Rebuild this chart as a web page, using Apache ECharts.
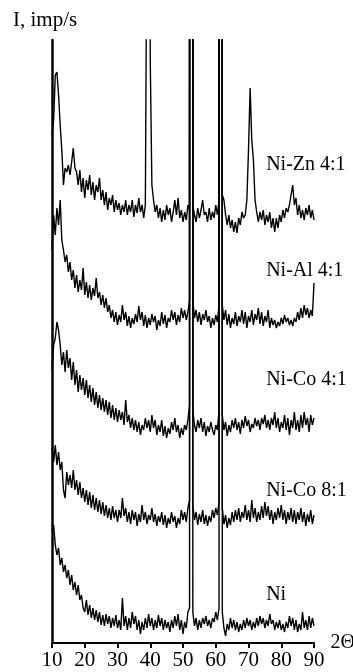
<!DOCTYPE html>
<html>
<head>
<meta charset="utf-8">
<script src="https://cdn.jsdelivr.net/npm/echarts@6/dist/echarts.min.js"></script>
<style>
html,body{margin:0;padding:0;background:#fff;overflow:hidden;width:353px;height:672px;}
#chart{width:353px;height:672px;overflow:hidden;}
</style>
</head>
<body>
<div id="chart"></div>
<script>
// 2θ angles (degrees)
const twoTheta = [
10,10.5,11,11.5,12,12.5,13,13.5,14,14.5,15,15.5,16,16.5,17,17.5,18,18.5,19,19.5,
20,20.5,21,21.5,22,22.5,23,23.5,24,24.5,25,25.5,26,26.5,27,27.5,28,28.5,29,29.5,
30,30.5,31,31.5,32,32.5,33,33.5,34,34.5,35,35.5,36,36.5,37,37.5,38,38.5,39,39.5,
40,40.5,41,41.5,42,42.5,43,43.5,44,44.5,45,45.5,46,46.5,47,47.5,48,48.5,49,49.5,
50,50.5,51,51.5,52,52.5,53,53.5,54,54.5,55,55.5,56,56.5,57,57.5,58,58.5,59,59.5,
60,60.5,61,61.5,62,62.5,63,63.5,64,64.5,65,65.5,66,66.5,67,67.5,68,68.5,69,69.5,
70,70.5,71,71.5,72,72.5,73,73.5,74,74.5,75,75.5,76,76.5,77,77.5,78,78.5,79,79.5,
80,80.5,81,81.5,82,82.5,83,83.5,84,84.5,85,85.5,86,86.5,87,87.5,88,88.5,89,89.5,90];

const xTicks = [10,20,30,40,50,60,70,80,90];

// stacked (offset) intensities, arbitrary units
const niZn41 = [
508,523,568,571,548,518,493,458,475,471,478,468,481,495,475,471,458,473,451,465,
445,463,453,468,448,461,443,458,451,465,443,453,438,451,433,445,438,448,431,443,
433,440,428,438,431,443,428,438,431,443,426,438,430,445,431,438,425,438,743,2200,
583,458,443,431,438,425,435,421,433,423,438,428,435,421,431,443,428,445,425,433,
421,431,423,438,433,30000,438,428,421,435,425,433,443,428,431,421,435,423,431,425,
438,428,443,30000,448,443,428,418,428,415,423,411,421,410,425,418,431,425,428,443,
493,555,503,483,443,431,421,431,423,433,418,428,421,431,415,425,411,425,415,428,
421,433,425,435,431,438,448,458,438,445,428,438,425,433,423,435,428,438,425,433,423];

const niAl41 = [
393,428,408,435,418,443,403,393,381,388,371,381,363,373,355,368,351,363,353,375,
348,361,345,358,343,355,347,365,345,351,338,348,335,345,331,338,325,333,321,331,
318,328,321,338,323,331,317,327,315,325,319,329,321,337,323,331,317,328,315,325,
318,329,321,327,313,323,317,331,319,328,315,325,321,333,323,331,318,328,321,335,
325,333,323,331,343,30000,343,325,333,321,331,318,329,323,333,321,327,315,325,318,
328,321,338,30000,338,323,333,318,329,315,325,319,331,317,327,321,333,319,331,315,
327,321,333,318,329,323,335,319,331,317,327,321,333,315,325,318,323,315,321,317,
325,319,328,321,325,318,323,317,325,321,331,323,335,325,338,328,335,325,333,327,360];

const niCo41 = [
273,298,305,321,313,298,278,291,271,293,275,285,263,281,258,273,251,268,253,265,
248,263,245,258,241,255,238,251,235,248,233,245,231,243,228,241,225,238,223,235,
221,233,223,231,218,243,221,228,215,225,213,223,211,221,208,218,213,225,215,223,
211,228,215,223,208,218,211,223,207,217,205,215,209,221,213,225,211,218,205,215,
208,218,213,223,238,30000,233,218,211,223,215,225,211,221,207,217,211,221,213,208,
218,213,233,30000,228,213,221,207,218,211,223,215,225,213,221,209,223,215,227,217,
223,211,219,215,225,217,223,213,225,219,228,215,223,213,225,218,231,215,225,211,
221,215,228,213,225,208,223,215,231,213,223,211,228,215,231,218,225,211,228,218,225];

const niCo81 = [
195,181,198,178,191,173,181,153,145,171,158,168,155,173,153,163,148,161,145,155,
141,153,138,151,135,148,133,145,131,143,129,141,127,138,125,135,123,137,125,133,
121,133,125,145,127,135,121,131,119,133,123,131,117,129,121,138,123,131,119,128,
123,135,121,129,117,127,121,131,118,128,115,125,119,131,121,127,115,125,119,133,
123,131,121,135,143,30000,138,123,131,118,129,121,133,119,128,117,127,121,133,125,
135,128,141,30000,135,119,128,115,125,118,131,121,133,123,135,121,131,125,138,123,
133,121,143,125,135,121,131,123,137,125,141,127,137,123,133,119,131,123,135,125,
138,123,133,119,131,123,135,121,133,119,131,123,135,121,131,117,129,121,133,119,128];

const ni = [
113,118,98,88,95,78,85,71,78,65,73,58,68,53,61,48,58,43,48,35,
31,43,28,38,25,35,23,33,21,31,18,28,17,29,19,27,15,25,17,28,
15,23,13,45,17,27,13,25,15,31,19,27,13,23,9,21,13,25,15,29,
17,25,13,23,15,28,17,25,13,23,15,21,11,23,15,27,17,29,13,23,
9,21,15,31,35,30000,31,17,25,13,23,15,25,19,27,17,23,15,25,21,
31,23,35,30000,31,15,7,19,13,25,15,23,13,21,11,19,13,23,15,25,
17,23,13,21,15,25,17,27,19,25,15,23,17,29,19,23,13,21,15,23,
13,19,11,21,15,27,17,25,13,23,11,19,13,31,15,23,13,27,15,25,17];

const seriesNames = ['Ni-Zn 4:1','Ni-Al 4:1','Ni-Co 4:1','Ni-Co 8:1','Ni'];
const seriesValues = [niZn41, niAl41, niCo41, niCo81, ni];
// label anchor (2θ, stacked intensity) for each curve's name
const labelAngle = 75.4;
const labelLevels = [478, 372, 263, 152, 48];

const FONT = "Liberation Serif";

const chart = echarts.init(document.getElementById('chart'), null, {renderer:'canvas', width: 353, height: 672});

const series = seriesValues.map((vals, k) => ({
  type: 'line',
  name: seriesNames[k],
  data: twoTheta.map((t, i) => [t, vals[i]]),
  showSymbol: false,
  symbol: 'none',
  clip: true,
  silent: true,
  lineStyle: {color: '#000', width: 1.4},
  z: 2,
  markPoint: {
    silent: true,
    symbol: 'circle',
    symbolSize: 0.1,
    itemStyle: {color: 'transparent'},
    label: {
      show: true,
      position: [0, 0],
      align: 'left',
      verticalAlign: 'middle',
      formatter: seriesNames[k],
      color: '#000',
      fontSize: 20,
      fontFamily: FONT
    },
    data: [{coord: [labelAngle, labelLevels[k]]}]
  }
}));

chart.setOption({
  animation: false,
  backgroundColor: '#fff',
  textStyle: {fontFamily: FONT},
  grid: {left: 52, right: 39, top: 40, bottom: 29, containLabel: false, outerBoundsMode: 'none'},
  xAxis: {
    type: 'value',
    min: xTicks[0],
    max: xTicks[xTicks.length - 1],
    interval: 10,
    axisLine: {show: true, onZero: false, lineStyle: {color: '#000', width: 2}},
    axisTick: {show: true, length: 5, lineStyle: {color: '#000', width: 2}},
    axisLabel: {color: '#000', fontSize: 21, fontFamily: FONT, margin: 7},
    splitLine: {show: false},
    name: '2Θ',
    nameLocation: 'end',
    nameGap: 6,
    nameTextStyle: {color: '#000', fontSize: 20, fontFamily: FONT, verticalAlign: 'middle', padding: [0, 0, 8, 0]}
  },
  yAxis: {
    type: 'value',
    min: 0,
    max: 603,
    axisLine: {show: true, lineStyle: {color: '#000', width: 2.5}},
    axisTick: {show: false},
    axisLabel: {show: false},
    splitLine: {show: false}
  },
  graphic: [{
    type: 'text',
    x: 13,
    y: 20,
    style: {text: 'I, imp/s', fill: '#000', fontSize: 21, fontFamily: FONT, verticalAlign: 'middle'}
  }],
  series: series
});
</script>
</body>
</html>
